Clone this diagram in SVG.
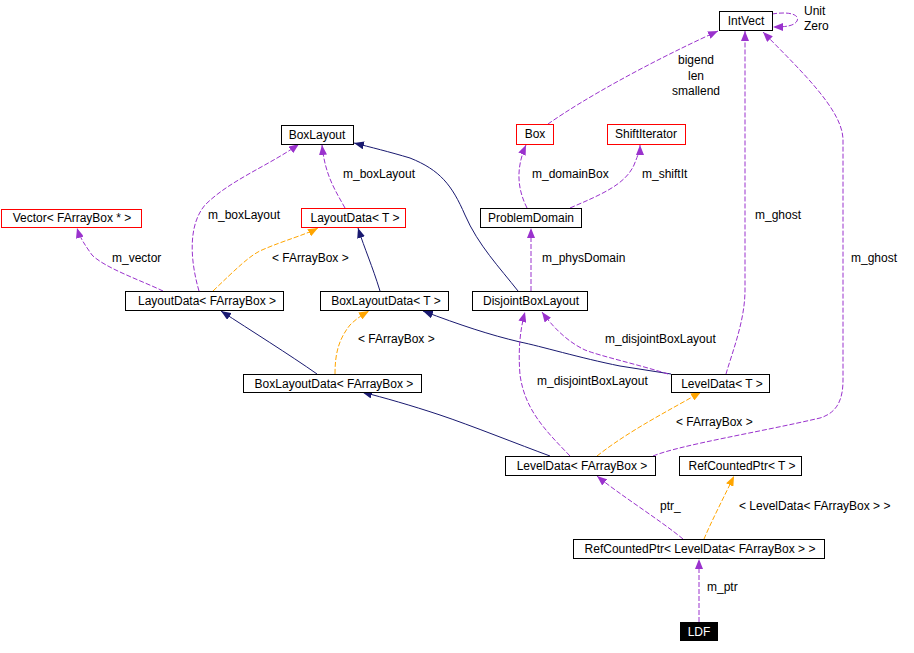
<svg xmlns="http://www.w3.org/2000/svg" width="914" height="653" viewBox="0 0 914 653">
<style>
text { font-family: "Liberation Sans", Arial, sans-serif; font-size: 12px; fill: #000; }
.node rect { fill: #fff; stroke: #000; stroke-width: 1; }
.node.red rect { stroke: #ff0000; }
.node text { text-anchor: middle; }
.node.black rect { fill: #000; }
.node.black text { fill: #fff; }
.e { fill: none; stroke-width: 1; }
.use { stroke: #9a32cd; stroke-dasharray: 5,2; marker-end: url(#aP); }
.inh { stroke: #191970; marker-end: url(#aN); }
.tpl { stroke: #ffa500; stroke-dasharray: 5,2; marker-end: url(#aO); }
.lbl { text-anchor: start; }
.mid { text-anchor: middle; }
</style>
<defs>
<marker id="aP" markerUnits="userSpaceOnUse" markerWidth="11" markerHeight="8" refX="10" refY="4" orient="auto"><path d="M0,0 L10,4 L0,8 z" fill="#9a32cd"/></marker>
<marker id="aN" markerUnits="userSpaceOnUse" markerWidth="11" markerHeight="8" refX="10" refY="4" orient="auto"><path d="M0,0 L10,4 L0,8 z" fill="#191970"/></marker>
<marker id="aO" markerUnits="userSpaceOnUse" markerWidth="11" markerHeight="8" refX="10" refY="4" orient="auto"><path d="M0,0 L10,4 L0,8 z" fill="#ffa500"/></marker>
</defs>
<rect width="914" height="653" fill="#fff"/>
<g id="edges">
<path class="e use" d="M772,14 C790,11 800,15 797,21 C794,26 786,27 773,27"/>
<path class="e use" d="M548,124 C585,98 650,62 718,31"/>
<path class="e use" d="M726,374 C733,350 745,320 745,290 L745,31"/>
<path class="e use" d="M653,456 C680,445 760,432 820,418 C840,412 843,395 843,380 L843,140 C843,110 800,70 763,32"/>
<path class="e inh" d="M518,291 C500,268 478,245 465,215 C452,185 440,170 410,158 C390,152 370,147 354,143"/>
<path class="e use" d="M199,291 C190,260 188,225 205,205 C230,180 270,165 299,144"/>
<path class="e use" d="M345,208 C335,190 325,175 322,145"/>
<path class="e use" d="M527,208 C518,190 515,170 526,145"/>
<path class="e use" d="M570,208 C600,195 625,185 634,165 C638,155 640,150 640,145"/>
<path class="e use" d="M531,291 L531,228"/>
<path class="e use" d="M163,291 C140,280 105,268 92,255 C85,245 80,238 77,228"/>
<path class="e tpl" d="M213,291 C235,270 250,255 262,250 C285,240 305,235 318,228"/>
<path class="e inh" d="M380,291 C372,265 365,250 358,228"/>
<path class="e inh" d="M317,374 C290,355 250,330 221,311"/>
<path class="e tpl" d="M335,374 C335,355 338,340 350,325 C356,319 362,315 369,311"/>
<path class="e inh" d="M671,374 L620,366 C580,358 540,346 520,342 C490,335 460,325 423,311"/>
<path class="e use" d="M668,374 C640,365 600,356 585,350 C570,343 555,330 542,312"/>
<path class="e use" d="M570,456 C545,430 525,410 520,375 C518,350 520,330 525,312"/>
<path class="e inh" d="M550,456 C520,445 470,425 440,415 C410,405 385,398 362,392"/>
<path class="e tpl" d="M597,456 C630,430 670,410 701,392"/>
<path class="e use" d="M683,539 C660,520 620,495 597,476"/>
<path class="e tpl" d="M704,539 C712,520 725,495 734,476"/>
<path class="e use" d="M699,622 L699,559"/>
<text class="lbl" x="804" y="15">Unit</text>
<text class="lbl" x="804" y="30">Zero</text>
<text class="mid" x="696" y="64">bigend</text>
<text class="mid" x="696" y="80">len</text>
<text class="mid" x="696" y="95">smallend</text>
<text class="lbl" x="532" y="178">m_domainBox</text>
<text class="lbl" x="642" y="178">m_shiftIt</text>
<text class="lbl" x="343" y="178">m_boxLayout</text>
<text class="lbl" x="208" y="219">m_boxLayout</text>
<text class="lbl" x="755" y="219">m_ghost</text>
<text class="lbl" x="112" y="262">m_vector</text>
<text class="lbl" x="272" y="262">&lt; FArrayBox &gt;</text>
<text class="lbl" x="542" y="262">m_physDomain</text>
<text class="lbl" x="851" y="262">m_ghost</text>
<text class="lbl" x="358" y="343">&lt; FArrayBox &gt;</text>
<text class="lbl" x="605" y="343">m_disjointBoxLayout</text>
<text class="lbl" x="537" y="385">m_disjointBoxLayout</text>
<text class="lbl" x="676" y="426">&lt; FArrayBox &gt;</text>
<text class="lbl" x="660" y="510">ptr_</text>
<text class="lbl" x="739" y="510">&lt; LevelData&lt; FArrayBox &gt; &gt;</text>
<text class="lbl" x="707" y="591">m_ptr</text>
</g>
<g id="IntVect" class="node"><rect x="719.5" y="11.5" width="53" height="19"/><text x="746" y="25">IntVect</text></g>
<g id="Box" class="node red"><rect x="516.5" y="124.5" width="37" height="20"/><text x="535" y="138">Box</text></g>
<g id="ShiftIterator" class="node red"><rect x="607.5" y="124.5" width="78" height="20"/><text x="646" y="138">ShiftIterator</text></g>
<g id="BoxLayout" class="node"><rect x="281.5" y="125.5" width="72" height="19"/><text x="317" y="139">BoxLayout</text></g>
<g id="LayoutDataT" class="node red"><rect x="301.5" y="208.5" width="104" height="19"/><text x="355" y="222">LayoutData&lt; T &gt;</text></g>
<g id="ProblemDomain" class="node"><rect x="480.5" y="208.5" width="101" height="19"/><text x="531" y="222">ProblemDomain</text></g>
<g id="VectorFArrayBoxPtr" class="node red"><rect x="1.5" y="209.5" width="140" height="18"/><text x="72" y="222">Vector&lt; FArrayBox * &gt;</text></g>
<g id="LayoutDataFArrayBox" class="node"><rect x="125.5" y="291.5" width="158" height="19"/><text x="207" y="305">LayoutData&lt; FArrayBox &gt;</text></g>
<g id="BoxLayoutDataT" class="node"><rect x="320.5" y="291.5" width="128" height="19"/><text x="386" y="305">BoxLayoutData&lt; T &gt;</text></g>
<g id="DisjointBoxLayout" class="node"><rect x="472.5" y="291.5" width="115" height="19"/><text x="531" y="305">DisjointBoxLayout</text></g>
<g id="BoxLayoutDataFArrayBox" class="node"><rect x="243.5" y="374.5" width="178" height="18"/><text x="334" y="388">BoxLayoutData&lt; FArrayBox &gt;</text></g>
<g id="LevelDataT" class="node"><rect x="671.5" y="374.5" width="98" height="18"/><text x="722" y="388">LevelData&lt; T &gt;</text></g>
<g id="LevelDataFArrayBox" class="node"><rect x="505.5" y="456.5" width="150" height="19"/><text x="582" y="470">LevelData&lt; FArrayBox &gt;</text></g>
<g id="RefCountedPtrT" class="node"><rect x="679.5" y="456.5" width="122" height="19"/><text x="742" y="470">RefCountedPtr&lt; T &gt;</text></g>
<g id="RefCountedPtrLevelData" class="node"><rect x="573.5" y="539.5" width="251" height="19"/><text x="700" y="553">RefCountedPtr&lt; LevelData&lt; FArrayBox &gt; &gt;</text></g>
<g id="LDF" class="node black"><rect x="680.5" y="622.5" width="37" height="18"/><text x="699" y="636">LDF</text></g>
</svg>
